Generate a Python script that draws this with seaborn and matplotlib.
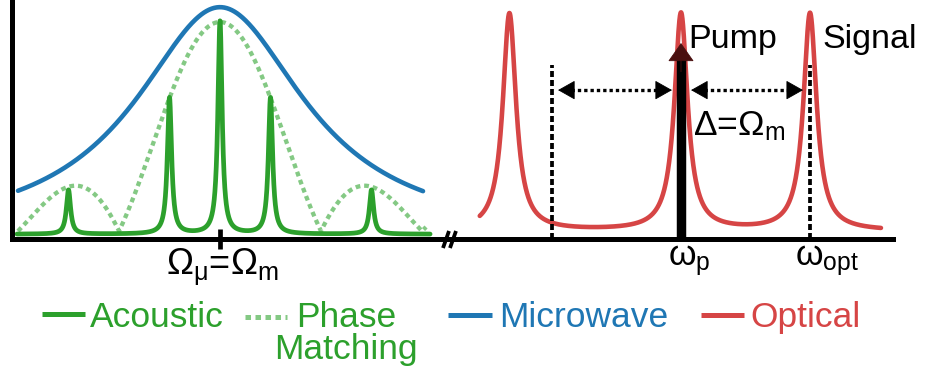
import numpy as np
import pandas as pd
import matplotlib
matplotlib.use("Agg")
import matplotlib.pyplot as plt
import matplotlib.transforms as mtransforms
from matplotlib.lines import Line2D
import seaborn as sns

# ---- acoustic / microwave side (frequency in units of the acoustic mode spacing, 0 = Omega_m)
acoustic_modes = [-3, -1, 0, 1, 3]
acoustic_heights = [0.185, 0.57, 0.89, 0.57, 0.185]
acoustic_linewidth = 0.05
acoustic_floor = 0.02

phase_matching_peak = 0.875
phase_matching_first_zero = 2.0
phase_matching_floor = 0.033

microwave_peak = 0.97
microwave_halfwidth = 2.05

# ---- optical side (frequency in units of Omega_m, 0 = pump)
optical_modes = [-1.33, 0.0, 1.0]
optical_heights = [0.91, 0.91, 0.91]
optical_linewidth = 0.062
optical_floor = 0.033

pump_freq = 0.0
detuning = 1.0          # Delta = Omega_m
pump_height = 0.82
marker_height = 0.728
arrow_level = 0.623

legend_labels = ["Acoustic", "Phase\nMatching", "Microwave", "Optical"]

GREEN = "#2ca02c"
LIGHT_GREEN = "#84c984"
BLUE = "#1f77b4"
RED = "#d64545"
PUMP_HEAD = "#4a1010"

sns.set_theme(style="white")
plt.rcParams["font.family"] = ["Liberation Sans", "DejaVu Sans"]
plt.rcParams["mathtext.fontset"] = "custom"
plt.rcParams["mathtext.rm"] = "Liberation Sans"
plt.rcParams["mathtext.it"] = "Liberation Sans"
plt.rcParams["mathtext.bf"] = "Liberation Sans:bold"


def lorentz(x, centre, height, width):
    return height / (1.0 + ((x - centre) / width) ** 2)


W, H = 928, 373


def fx(p):
    return p / W


def fy(p):
    return 1.0 - p / H


fig = plt.figure(figsize=(W / 100, H / 100), dpi=100)
ax_l = fig.add_axes([fx(12.5), fy(239), fx(447) - fx(12.5), fy(0) - fy(239)])
ax_r = fig.add_axes([fx(451), fy(239), fx(893) - fx(451), fy(0) - fy(239)])

# ---------------- left panel ----------------
x_ac = np.linspace(-4.02, 4.16, 6000)
y_ac = acoustic_floor + sum(lorentz(x_ac, c, h, acoustic_linewidth)
                            for c, h in zip(acoustic_modes, acoustic_heights))
x_pm = np.linspace(-4.0, 4.08, 1200)
y_pm = phase_matching_floor + phase_matching_peak * np.abs(np.sinc(x_pm / phase_matching_first_zero))
x_mw = np.linspace(-4.0, 4.02, 800)
y_mw = lorentz(x_mw, 0.0, microwave_peak, microwave_halfwidth)

left = pd.concat([
    pd.DataFrame({"f": x_mw, "amp": y_mw, "curve": "Microwave"}),
    pd.DataFrame({"f": x_pm, "amp": y_pm, "curve": "Phase Matching"}),
    pd.DataFrame({"f": x_ac, "amp": y_ac, "curve": "Acoustic"}),
])

sns.lineplot(data=left[left.curve == "Microwave"], x="f", y="amp", ax=ax_l,
             color=BLUE, linewidth=3.3, estimator=None, sort=False, legend=False)
sns.lineplot(data=left[left.curve == "Phase Matching"], x="f", y="amp", ax=ax_l,
             color=LIGHT_GREEN, linewidth=3.1, linestyle=(0, (1.1, 0.9)),
             dash_capstyle="butt", estimator=None, sort=False, legend=False)
sns.lineplot(data=left[left.curve == "Acoustic"], x="f", y="amp", ax=ax_l,
             color=GREEN, linewidth=3.4, estimator=None, sort=False, legend=False)

ax_l.set_xlim((12.5 - 220) / 50.5, (447 - 220) / 50.5)
ax_l.set_ylim(0, 1)

# ---------------- right panel ----------------
x_op = np.linspace(-1.56, 1.55, 4000)
y_op = optical_floor + sum(lorentz(x_op, c, h, optical_linewidth)
                           for c, h in zip(optical_modes, optical_heights))
sns.lineplot(x=x_op, y=y_op, ax=ax_r, color=RED, linewidth=3.3,
             estimator=None, sort=False, legend=False)

ax_r.set_xlim((451 - 681) / 129, (893 - 681) / 129)
ax_r.set_ylim(0, 1)

# dashed markers at pump -/+ Omega_m
for f in (pump_freq - detuning, pump_freq + detuning):
    ax_r.plot([f, f], [0, marker_height], color="black", lw=2.7,
              linestyle=(0, (1.6, 0.8)), dash_capstyle="butt")

# dotted double arrows
head = "-|>,head_length=1.1,head_width=0.62"
for a, b in ((pump_freq - detuning + 0.047, pump_freq - 0.07),
             (pump_freq + 0.078, pump_freq + detuning - 0.054)):
    ax_r.plot([a + 0.1, b - 0.1], [arrow_level, arrow_level], color="black",
              lw=2.4, linestyle=(0, (1.0, 0.9)), dash_capstyle="butt")
    for tip, back in ((a, a + 0.12), (b, b - 0.12)):
        ax_r.annotate("", xy=(tip, arrow_level), xytext=(back, arrow_level),
                      arrowprops=dict(arrowstyle=head, mutation_scale=10,
                                      fc="black", ec="black", lw=0.6,
                                      shrinkA=0, shrinkB=0))

# pump arrow
ax_r.plot([pump_freq, pump_freq], [0, pump_height - 0.068], color="black",
          lw=6.8, solid_capstyle="butt")
ax_r.annotate("", xy=(pump_freq, pump_height), xytext=(pump_freq, pump_height - 0.12),
              arrowprops=dict(arrowstyle="-|>,head_length=1.22,head_width=0.86",
                              mutation_scale=10, fc=PUMP_HEAD, ec=PUMP_HEAD, lw=0.6,
                              shrinkA=0, shrinkB=0))

ax_r.text(0.054, 0.799, "Pump", fontsize=24.5, va="baseline", ha="left", color="black")
ax_r.text(1.10, 0.799, "Signal", fontsize=24.5, va="baseline", ha="left", color="black")
ax_r.text(0.09, 0.435, r"$\Delta$=$\Omega_m$", fontsize=25.5, va="baseline", ha="left",
          color="black")

# ---------------- axes styling ----------------
for ax in (ax_l, ax_r):
    ax.set_facecolor("none")
    ax.set_xlabel("")
    ax.set_ylabel("")
    ax.set_yticks([])
    for s in ("top", "right"):
        ax.spines[s].set_visible(False)
    ax.spines["bottom"].set_linewidth(3.6)
    ax.spines["bottom"].set_color("black")
ax_l.spines["left"].set_linewidth(3.6)
ax_l.spines["left"].set_color("black")
ax_r.spines["left"].set_visible(False)

ax_l.set_xticks([0])
ax_l.tick_params(axis="x", direction="inout", length=14.5, width=3.4, color="black",
                 labelbottom=False, bottom=True)
ax_r.set_xticks([])

tl = mtransforms.blended_transform_factory(ax_l.transData, ax_l.transAxes)
tr = mtransforms.blended_transform_factory(ax_r.transData, ax_r.transAxes)
ax_l.text(0.05, -0.1506, r"$\Omega_\mu$=$\Omega_m$", transform=tl, fontsize=26,
          ha="center", va="baseline", color="black")
ax_r.text(-0.10, -0.109, r"$\omega_p$", transform=tr, fontsize=25.5,
          ha="left", va="baseline", color="black")
ax_r.text(0.884, -0.109, r"$\omega_{opt}$", transform=tr, fontsize=25.5,
          ha="left", va="baseline", color="black")

# axis break marks
for x0 in (443, 450):
    fig.add_artist(Line2D([fx(x0), fx(x0 + 6)], [fy(248), fy(231)], color="black",
                          lw=2.7, solid_capstyle="butt"))

# ---------------- legend ----------------
# (handle x0, x1, handle y, colour, style, text x, text baseline, alignment, label)
legend_items = [
    (42, 85, 314, GREEN, "-", 90, 327, "left", legend_labels[0]),
    (245, 287, 317, LIGHT_GREEN, (0, (1.1, 0.9)), 346, 359, "center", legend_labels[1]),
    (448, 492, 315, BLUE, "-", 499, 327, "left", legend_labels[2]),
    (701, 744, 315, RED, "-", 750, 327, "left", legend_labels[3]),
]
for x0, x1, yl, col, ls, xt, yt, ha, lab in legend_items:
    fig.add_artist(Line2D([fx(x0), fx(x1)], [fy(yl), fy(yl)], color=col, lw=3.6,
                          linestyle=ls, dash_capstyle="butt", solid_capstyle="butt"))
    text_col = GREEN if col == LIGHT_GREEN else col
    fig.text(fx(xt), fy(yt), lab, color=text_col, fontsize=25.5, ha=ha, va="baseline",
             multialignment="center", linespacing=0.98)

fig.savefig("out.png", dpi=100)
